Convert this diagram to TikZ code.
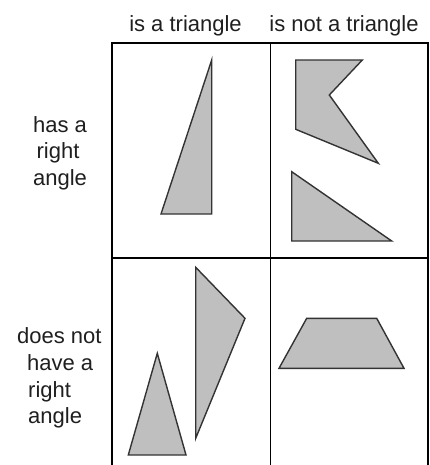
\documentclass[tikz,border=0pt]{standalone}
\usepackage{fontspec}
\setmainfont{Liberation Sans}
\begin{document}
\begin{tikzpicture}[x=1pt,y=-1pt,
  lbl/.style={inner sep=0pt,anchor=base,font=\fontsize{22}{26}\selectfont,text=black!88},
  lbll/.style={lbl,anchor=base west},
  gridline/.style={line width=1.8pt,black},
  poly/.style={draw=black!80,fill=black!25,line width=1.4pt,line join=miter}]
\useasboundingbox (0,0) rectangle (430,465);
% header labels
\node[lbl] (c1) at (185.5,32) {is a triangle};
\node[lbl] (c2) at (344,32) {is not a triangle};
% row labels
\node[lbl] (r1a) at (60,133) {has a};
\node[lbl] (r1b) at (58,159) {right};
\node[lbl] (r1c) at (60,185) {angle};
\node[lbll] (r2a) at (17,343) {does not};
\node[lbll] (r2b) at (27,370) {have a};
\node[lbll] (r2c) at (28,397) {right};
\node[lbll] (r2d) at (28,423) {angle};
% grid
\draw[gridline] (112,465) -- (112,43) -- (428,43) -- (428,465);
\draw[gridline] (270.5,43) -- (270.5,465);
\draw[gridline] (112,258) -- (428,258);
% top-left: right triangle
\draw[poly] (211.7,60) -- (211.7,214) -- (161,214) -- cycle;
% top-right: concave polygon and right triangle
\draw[poly] (295.7,60) -- (362.3,60) -- (329.3,95) -- (378.3,163.3) -- (295.7,129.3) -- cycle;
\draw[poly] (291.7,171.7) -- (391.7,241) -- (291.7,241) -- cycle;
% bottom-left: two triangles
\draw[poly] (157.3,353.3) -- (186,455) -- (128.3,455) -- cycle;
\draw[poly] (195.7,267.3) -- (245,318.3) -- (195.7,438.3) -- cycle;
% bottom-right: trapezoid
\draw[poly] (306.7,318.3) -- (376.7,318.3) -- (404,368.3) -- (279,368.3) -- cycle;
\end{tikzpicture}
\end{document}
